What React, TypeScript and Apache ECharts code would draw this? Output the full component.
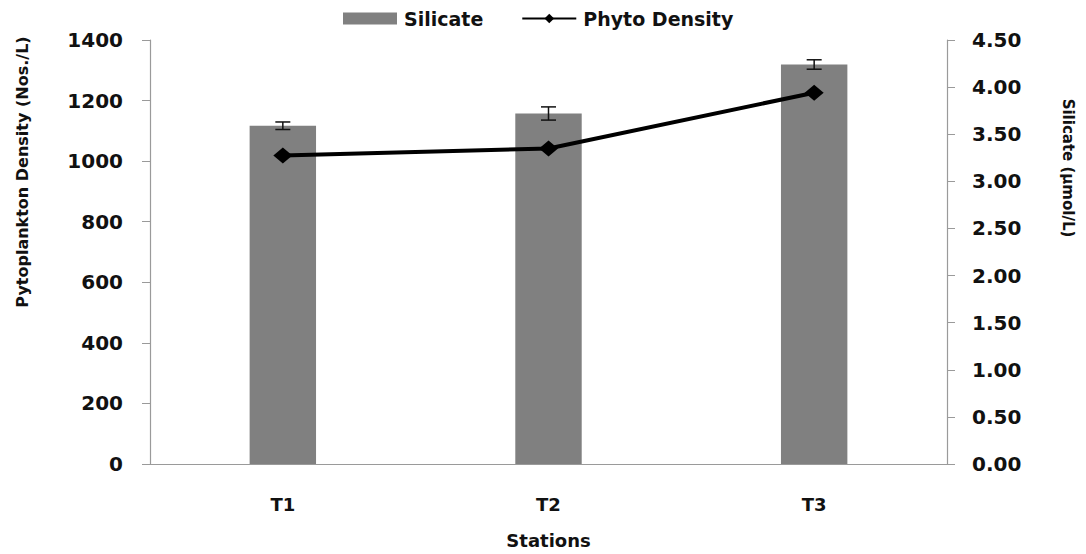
import React, { useEffect, useRef } from "react";
import * as echarts from "echarts";

const stations = ["T1", "T2", "T3"];
const silicate = [3.59, 3.72, 4.24];
const silicateErr = [0.04, 0.07, 0.05];
const phytoDensity = [1019, 1042, 1226];
const leftAxisName = "Pytoplankton Density (Nos./L)";
const rightAxisName = "Silicate (µmol/L)";

const FONT = "DejaVu Sans";
const INK = "#111";

export default function App() {
  const ref = useRef<HTMLDivElement>(null);
  useEffect(() => {
    if (!ref.current) return;
    const chart = echarts.init(ref.current, undefined, { renderer: "svg" });
    const errData = stations.map((s, i) => [i, silicate[i] - silicateErr[i], silicate[i] + silicateErr[i]]);
    chart.setOption({
      animation: false,
      backgroundColor: "#fff",
      textStyle: { fontFamily: FONT },
      legend: {
        top: 9,
        left: 343,
        padding: 0,
        itemWidth: 54,
        itemHeight: 12,
        itemGap: 38,
        textStyle: { fontFamily: FONT, fontSize: 19, fontWeight: "bold", color: INK, padding: [0, 0, 0, 2] },
        data: [
          { name: "Silicate", icon: "rect" },
          { name: "Phyto Density" },
        ],
      },
      graphic: [
        {
          type: "text",
          x: 22,
          y: 172,
          rotation: Math.PI / 2,
          style: {
            text: leftAxisName,
            fill: INK,
            font: `bold 16px "${FONT}"`,
            align: "center",
            verticalAlign: "middle",
          },
        },
        {
          type: "text",
          x: 1068,
          y: 168,
          rotation: -Math.PI / 2,
          style: {
            text: rightAxisName,
            fill: INK,
            font: `bold 15px "${FONT}"`,
            align: "center",
            verticalAlign: "middle",
          },
        },
      ],
      grid: { left: 150, right: 139, top: 40, bottom: 88 },
      xAxis: {
        type: "category",
        data: stations,
        name: "Stations",
        nameLocation: "middle",
        nameGap: 67,
        nameTextStyle: { fontFamily: FONT, fontSize: 18, fontWeight: "bold", color: INK, verticalAlign: "top" },
        axisLine: { lineStyle: { color: "#9a9a9a", width: 1.2 } },
        axisTick: { show: false },
        axisLabel: { margin: 31, fontFamily: FONT, fontSize: 18, fontWeight: "bold", color: INK },
      },
      yAxis: [
        {
          type: "value",
          min: 0,
          max: 1400,
          interval: 200,
          axisLine: { show: true, lineStyle: { color: "#9a9a9a", width: 1.2 } },
          axisTick: { show: true, length: 8, lineStyle: { color: "#9a9a9a" } },
          splitLine: { show: false },
          axisLabel: {
            margin: 27,
            fontFamily: FONT,
            fontSize: 20,
            fontWeight: "bold",
            color: INK,
            formatter: (v: number) => String(v),
          },
        },
        {
          type: "value",
          min: 0,
          max: 4.5,
          interval: 0.5,
          position: "right",
          axisLine: { show: true, lineStyle: { color: "#9a9a9a", width: 1.2 } },
          axisTick: { show: true, length: 8, lineStyle: { color: "#9a9a9a" } },
          splitLine: { show: false },
          axisLabel: {
            margin: 25,
            fontFamily: FONT,
            fontSize: 20,
            fontWeight: "bold",
            color: INK,
            formatter: (v: number) => v.toFixed(2),
          },
        },
      ],
      series: [
        {
          name: "Silicate",
          type: "bar",
          yAxisIndex: 1,
          data: silicate,
          barWidth: "25%",
          itemStyle: { color: "#808080" },
          z: 1,
        },
        {
          name: "SilicateErr",
          type: "custom",
          yAxisIndex: 1,
          data: errData,
          z: 3,
          renderItem: (params: any, api: any) => {
            const x = api.value(0);
            const lo = api.coord([x, api.value(1)]);
            const hi = api.coord([x, api.value(2)]);
            const cap = 7.5;
            const st = { stroke: INK, lineWidth: 1.5 };
            return {
              type: "group",
              children: [
                { type: "line", shape: { x1: lo[0], y1: lo[1], x2: hi[0], y2: hi[1] }, style: st },
                { type: "line", shape: { x1: lo[0] - cap, y1: lo[1], x2: lo[0] + cap, y2: lo[1] }, style: st },
                { type: "line", shape: { x1: hi[0] - cap, y1: hi[1], x2: hi[0] + cap, y2: hi[1] }, style: st },
              ],
            };
          },
        },
        {
          name: "Phyto Density",
          type: "line",
          yAxisIndex: 0,
          data: phytoDensity,
          symbol: "diamond",
          symbolSize: [19, 16],
          lineStyle: { color: "#000", width: 4 },
          itemStyle: { color: "#000" },
          z: 4,
        },
      ],
    });
    return () => chart.dispose();
  }, []);
  return (
    <div
      ref={ref}
      style={{ position: "absolute", left: 0, top: 0, width: 1086, height: 554 }}
    />
  );
}
